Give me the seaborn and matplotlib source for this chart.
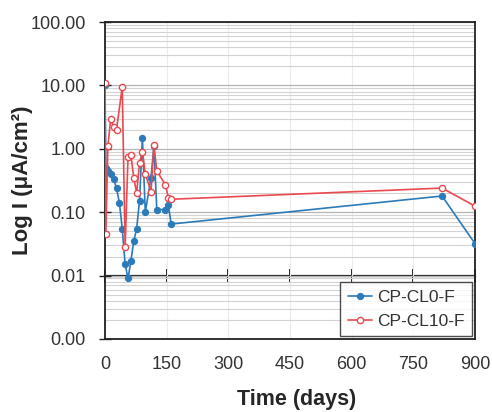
import matplotlib
matplotlib.use("Agg")
import matplotlib.pyplot as plt
import matplotlib.ticker as mticker
import seaborn as sns
import pandas as pd

# ---- data ----
blue_t = [0, 2, 7, 14, 21, 28, 35, 42, 49, 56, 63, 70, 77, 84, 91, 98, 112, 119, 126, 147, 154, 161, 820, 900]
blue_v = [10, 0.5, 0.45, 0.40, 0.33, 0.24, 0.14, 0.055, 0.015, 0.009, 0.017, 0.035, 0.055, 0.15,
          1.5, 0.1, 0.35, 1.1, 0.11, 0.11, 0.13, 0.065, 0.18, 0.032]
red_t = [0, 2, 7, 14, 21, 28, 42, 49, 56, 63, 70, 77, 84, 91, 98, 112, 119, 126, 147, 154, 161, 820, 900]
red_v = [11, 0.045, 1.1, 3.0, 2.2, 2.0, 9.5, 0.028, 0.75, 0.8, 0.35, 0.2, 0.6, 0.9, 0.4,
         0.21, 1.15, 0.45, 0.27, 0.17, 0.16, 0.24, 0.125]
labels = ["CP-CL0-F", "CP-CL10-F"]
x_ticks = [0, 150, 300, 450, 600, 750, 900]
y_ticks = [0.001, 0.01, 0.1, 1, 10, 100]

sns.set_style("white")
plt.rcParams["font.family"] = ["Liberation Sans", "DejaVu Sans"]

fig = plt.figure(figsize=(4.92, 4.12), dpi=100)
ax = fig.add_axes([0.2134, 0.1772, 0.752, 0.7694])

blue_c = "#2b7bba"
red_c = "#e84a4f"

df_b = pd.DataFrame({"t": blue_t, "v": blue_v})
df_r = pd.DataFrame({"t": red_t, "v": red_v})

sns.lineplot(data=df_b, x="t", y="v", ax=ax, sort=False, color=blue_c, lw=1.2,
             marker="o", markersize=4.5, markerfacecolor=blue_c, markeredgecolor=blue_c,
             label=labels[0], zorder=3)
sns.lineplot(data=df_r, x="t", y="v", ax=ax, sort=False, color=red_c, lw=1.2,
             marker="o", markersize=4.5, markerfacecolor="white", markeredgecolor=red_c,
             markeredgewidth=1.0, label=labels[1], zorder=4)

ax.set_yscale("log")
ax.set_ylim(0.001, 100)
ax.set_xlim(0, 900)
ax.set_xticks(x_ticks)
ax.set_yticks(y_ticks)
ax.yaxis.set_major_formatter(mticker.FuncFormatter(lambda v, p: f"{v:.2f}"))
ax.yaxis.set_minor_locator(mticker.LogLocator(base=10, subs=range(2, 10)))
ax.yaxis.set_minor_formatter(mticker.NullFormatter())

ax.grid(True, which="major", axis="y", color="#b5b5b5", lw=0.9)
ax.grid(True, which="minor", axis="y", color="#d3d3d3", lw=0.8)
ax.grid(True, which="major", axis="x", color="#ececec", lw=0.8)
ax.set_axisbelow(True)

for s in ax.spines.values():
    s.set_color("#222222")
    s.set_linewidth(1.3)

ax.tick_params(axis="y", which="major", left=True, direction="inout", length=8, width=1,
               colors="#222222", labelsize=13, labelcolor="#333333", pad=10)
ax.tick_params(axis="y", which="minor", length=0)
ax.tick_params(axis="x", which="major", bottom=False, length=0, labelsize=13,
               labelcolor="#333333", pad=12)

# horizontal axis crossing at 0.01
sec = ax.secondary_xaxis(0.2)
sec.set_xticks(x_ticks)
sec.xaxis.set_ticks_position("bottom")
sec.tick_params(axis="x", bottom=True, top=False, direction="inout", length=10, width=1.4,
                colors="#222222", labelbottom=False, labeltop=False)
for k in ("bottom", "top"):
    sec.spines[k].set_linewidth(1.6)
    sec.spines[k].set_color("#222222")

ax.set_xlabel("Time (days)", fontsize=15.5, fontweight="bold", va="center")
ax.set_ylabel("Log I (μA/cm²)", fontsize=16, fontweight="bold", va="center")
ax.xaxis.set_label_coords(0.519, -0.19)
ax.yaxis.set_label_coords(-0.222, 0.5)

leg = ax.legend(loc="lower right", frameon=True, fancybox=False, fontsize=12.5,
                borderaxespad=0.15, handlelength=1.4, handletextpad=0.3, borderpad=0.45,
                labelspacing=0.5)
leg.get_frame().set_edgecolor("#222222")
leg.get_frame().set_linewidth(1.0)
for t in leg.get_texts():
    t.set_color("#333333")

fig.savefig("out.png", dpi=100)
